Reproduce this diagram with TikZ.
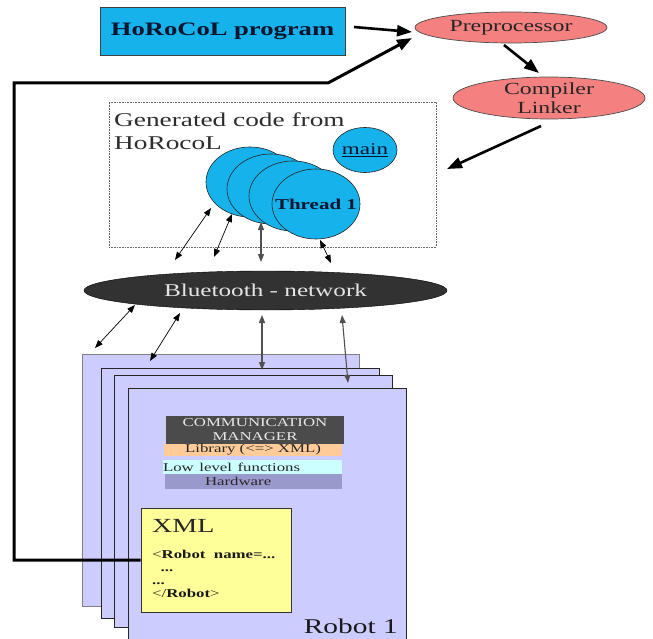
\documentclass[tikz,border=0pt]{standalone}
\usepackage{fontspec}
\setmainfont{Liberation Serif}
\usetikzlibrary{shapes.geometric,arrows.meta}
\definecolor{progblue}{RGB}{22,178,236}
\definecolor{salmon}{RGB}{244,128,128}
\definecolor{btdark}{RGB}{50,50,50}
\definecolor{lav}{RGB}{204,204,255}
\definecolor{cmdark}{RGB}{75,75,75}
\definecolor{peach}{RGB}{255,204,153}
\definecolor{lowcyan}{RGB}{204,255,255}
\definecolor{hwpurple}{RGB}{153,153,204}
\definecolor{xmlyellow}{RGB}{255,255,153}
\definecolor{navytext}{RGB}{10,20,45}
\definecolor{gentext}{RGB}{45,45,45}
\newcommand{\hs}[1]{\scalebox{1.4}[1]{#1}}
\newcommand{\fs}[2]{\fontsize{#1}{#2}\selectfont}
\begin{document}
\begin{tikzpicture}[x=1pt,y=-1pt,
  bigarrow/.style={line width=2.6pt,-{Triangle[length=15pt,width=11pt]}},
  fbline/.style={line width=3pt,-{Triangle[length=15pt,width=11pt]}},
  dbl/.style={{Triangle[length=8pt,width=6pt]}-{Triangle[length=8pt,width=6pt]},line width=0.7pt},
  dblgray/.style={dbl,draw={rgb,255:red,80;green,80;blue,80},line width=1.1pt},
  salmonell/.style={ellipse,draw=black!70,fill=salmon,line width=0.7pt,inner sep=0},
  thread/.style={ellipse,draw=black!85,fill=progblue,line width=0.6pt,minimum width=88pt,minimum height=70pt,inner sep=0},
  robotbox/.style={fill=lav,line width=0.9pt},
  layer/.style={inner sep=0,font=\fs{12}{14}},
]
\useasboundingbox (0,0) rectangle (653,639);

% top
\node[rectangle,draw=black!75,fill=progblue,line width=0.8pt,minimum width=245pt,minimum height=48pt,inner sep=0,text=navytext,font=\fs{19}{22}\bfseries] (prog) at (222.5,31) {\hs{HoRoCoL program}};
\node[salmonell,minimum width=192pt,minimum height=31pt,label={[font=\fs{17}{19},text=black!85]center:\hs{Preprocessor}}] (pre) at (511,27.5) {};
\node[salmonell,minimum width=192pt,minimum height=42pt,label={[font=\fs{17}{19},text=black!85,align=center]center:\hs{Compiler}\\\hs{Linker}}] (comp) at (549,98) {};

% generated code box
\node[draw=black!60,densely dotted,line width=0.6pt,minimum width=327pt,minimum height=145pt,inner sep=0] (gen) at (272.5,174.5) {};
\node[anchor=north west,inner sep=0,align=left,text=gentext,font=\fs{19.5}{23}] (gentxt) at (114,112.5) {\hs{Generated code from}\\\hs{HoRocoL}};
\node[ellipse,draw=black!85,fill=progblue,line width=0.6pt,minimum width=64pt,minimum height=45pt,inner sep=0,label={[font=\fs{16.5}{18},text=navytext]center:\hs{\underline{main}}}] (main) at (365,150) {};
\node[thread] (t4) at (250,182) {};
\node[thread] (t3) at (271,189) {};
\node[thread] (t2) at (293,196) {};
\node[thread,label={[font=\fs{15}{17}\bfseries,text=navytext]center:\hs{Thread 1}}] (t1) at (316,204) {};

% bluetooth
\node[ellipse,draw=black,fill=btdark,minimum width=363pt,minimum height=39pt,inner sep=0,label={[font=\fs{18}{20},text={rgb,255:red,228;green,228;blue,228}]center:\hs{Bluetooth - network}}] (bt) at (265.5,290.5) {};

% robots
\draw[robotbox,draw=black!50] (82,354) rectangle (359,606);
\draw[robotbox,draw=black!85] (101,368) rectangle (379,618);
\draw[robotbox,draw=black!85] (114,375) rectangle (392,627);
\draw[robotbox,draw=black!85] (128,388) rectangle (406,645);

\node[layer,fill=cmdark,minimum width=178pt,minimum height=28pt,align=center,text={rgb,255:red,232;green,232;blue,232}] (cm) at (255,430) {\hs{COMMUNICATION}\\\hs{MANAGER}};
\node[layer,fill=peach,minimum width=178pt,minimum height=12pt,text=black!85] (lib) at (253,450) {\hs{Library (<=> XML)}};
\node[layer,fill=lowcyan,text width=179pt,minimum height=14pt,align=left,text=black!85] (low) at (252.5,467) {\hs{Low level functions}};
\node[layer,fill=hwpurple,text width=177pt,minimum height=15pt,align=left,text=black!85] (hw) at (253.5,481.5) {\hspace*{40pt}\hs{Hardware}};

\node[draw=black!80,fill=xmlyellow,line width=0.7pt,minimum width=150pt,minimum height=104pt,inner sep=0] (xml) at (216,560) {};
\node[anchor=base west,inner sep=0,font=\fs{20}{22},text=black!85] (xmltitle) at (152,532) {\hs{XML}};
\node[anchor=north west,inner sep=0,align=left,font=\fs{12}{13},text=black!90] (xmlcode) at (152,550) {\hs{<\textbf{Robot\ \ name=...}}\\\hs{\ \ \textbf{...}}\\\hs{\textbf{...}}\\\hs{</\textbf{Robot}>}};

\node[anchor=base east,inner sep=0,font=\fs{21}{23},text=black!90] (rlabel) at (398,633) {\hs{Robot 1}};

% connector end points
\coordinate (p1s) at (354,27);
\coordinate (p1e) at (412,32);
\coordinate (fbA) at (14,560);
\coordinate (fbB) at (14,83);
\coordinate (fbC) at (328,83);
\coordinate (fbE) at (412,38);
\coordinate (pcS) at (504,45);
\coordinate (pcE) at (539,73);
\coordinate (cgS) at (541,126);
\coordinate (cgE) at (447,169);

\coordinate (a1s) at (211,208); \coordinate (a1e) at (175,260);
\coordinate (a2s) at (232,214); \coordinate (a2e) at (214,257);
\coordinate (a3s) at (261,222); \coordinate (a3e) at (261,262);
\coordinate (a4s) at (320,240); \coordinate (a4e) at (331,263);
\coordinate (b1s) at (135,305); \coordinate (b1e) at (95,348);
\coordinate (b2s) at (180,313); \coordinate (b2e) at (150,361);
\coordinate (b3s) at (262,315); \coordinate (b3e) at (262,370);
\coordinate (b4s) at (342,315); \coordinate (b4e) at (348,383);

\draw[bigarrow] (p1s) -- (p1e);
\draw[fbline] (xml.west) -- (fbA) -- (fbB) -- (fbC) -- (fbE);
\draw[bigarrow] (pcS) -- (pcE);
\draw[bigarrow] (cgS) -- (cgE);

\draw[dbl] (a1s) -- (a1e);
\draw[dbl] (a2s) -- (a2e);
\draw[dblgray] (a3s) -- (a3e);
\draw[dbl] (a4s) -- (a4e);
\draw[dbl] (b1s) -- (b1e);
\draw[dbl] (b2s) -- (b2e);
\draw[dblgray] (b3s) -- (b3e);
\draw[dblgray] (b4s) -- (b4e);
\end{tikzpicture}
\end{document}
